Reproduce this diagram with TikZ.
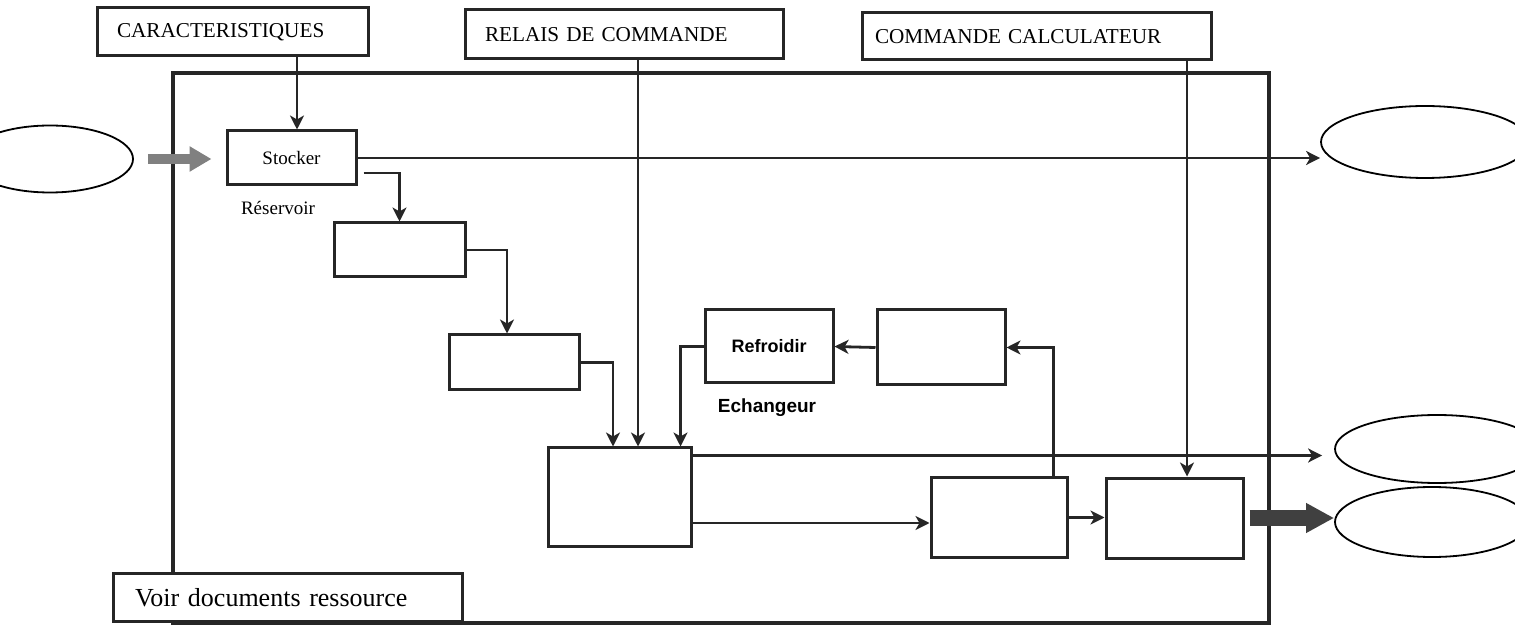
\documentclass[tikz,border=0pt]{standalone}
\usepackage{fontspec}
\setmainfont{Liberation Serif}
\newfontfamily\arialfont{Liberation Sans}
\usetikzlibrary{arrows.meta,shapes.geometric}

\begin{document}
\begin{tikzpicture}[x=0.5pt,y=0.5pt,yscale=-1,xscale=1,
  trait/.style={draw=black!85,line width=1.4pt},
  fleche/.style={trait,-{Stealth[length=7pt,width=7pt,inset=2pt]}},
  grosse/.style={draw=black!50,line width=5pt,-{Triangle[length=11pt,width=12pt]}},
  tresgrosse/.style={draw=black!75,line width=8pt,-{Triangle[length=14pt,width=14pt]}},
  boite/.style={draw=black!85,line width=1.5pt,fill=white,inner sep=0pt},
  titre/.style={boite,font=\fontsize{10.6}{12}\selectfont,align=left},
  sortie/.style={ellipse,draw=black,line width=0.9pt,inner sep=0pt}]
\useasboundingbox (0,0) rectangle (1515,630);

%Shape: Rectangle (cadre)
\draw[trait,line width=1.6pt] (173,73) rectangle (1269,623);

% Text Node
\node[titre,text width=115.5pt,inner xsep=10pt,minimum height=24pt] (carac) at (232.5,32) {CARACTERISTIQUES};
% Text Node
\node[titre,text width=139pt,inner xsep=10pt,minimum height=24.5pt] (relais) at (624,34.5) {RELAIS DE COMMANDE};
% Text Node
\node[titre,text width=161.5pt,inner xsep=6.5pt,minimum height=23.5pt] (calc) at (1036.5,36.5) {COMMANDE CALCULATEUR};
% Text Node
\node[titre,font=\fontsize{13}{15}\selectfont,text width=152.5pt,inner xsep=11pt,minimum height=24pt] (voir) at (287.5,597.5) {Voir documents ressource};

%Shape: Ellipse
\node[sortie,minimum width=83pt,minimum height=33.5pt] (entree) at (50,159) {};
\node[sortie,minimum width=104pt,minimum height=36pt] (sortieA) at (1425,142) {};
\node[sortie,minimum width=102pt,minimum height=34pt] (sortieB) at (1437,449) {};
\node[sortie,minimum width=97pt,minimum height=35pt] (sortieC) at (1432,522) {};

%Shape: Rectangle
\node[boite,minimum width=64.5pt,minimum height=27pt,font=\fontsize{9.5}{11}\selectfont] (stocker) at (291.5,158) {Stocker};
\node[boite,minimum width=65.5pt,minimum height=27pt] (blocA) at (399.5,250) {};
\node[boite,minimum width=65pt,minimum height=27.5pt] (blocB) at (514,362.5) {};
\node[boite,minimum width=71.5pt,minimum height=49pt] (melange) at (619.5,497) {};
\node[boite,minimum width=64pt,minimum height=36.5pt,font=\arialfont\bfseries\fontsize{9}{11}\selectfont] (refroidir) at (769,346.5) {Refroidir};
\node[boite,minimum width=64pt,minimum height=37.5pt] (blocE) at (941,347.5) {};
\node[boite,minimum width=68pt,minimum height=40pt] (basA) at (999,517.5) {};
\node[boite,minimum width=68.5pt,minimum height=40pt] (basB) at (1174.5,518) {};

% Text Node
\node[font=\fontsize{9.5}{11}\selectfont] (reservoir) at (278,208) {Réservoir};
% Text Node
\node[font=\arialfont\bfseries\fontsize{9.5}{11}\selectfont] (echangeur) at (767,408) {Echangeur};

\coordinate (xcar) at (297,0);
\coordinate (xrel) at (638,0);
\coordinate (xcalc) at (1187,0);

%Straight Lines
\draw[fleche] (carac.south -| xcar) -- (stocker.north -| xcar);
\draw[fleche] (relais.south -| xrel) -- (melange.north -| xrel);
\draw[fleche] (calc.south -| xcalc) -- (basB.north -| xcalc);
\draw[grosse,shorten <=7pt,shorten >=7pt] (entree.east) -- (entree.east -| stocker.west);
\draw[fleche] (stocker.east) -- (stocker.east -| sortieA.west);
\draw[fleche] ([xshift=3pt,yshift=7.5pt]stocker.east) -| (blocA.north);
\draw[fleche] (blocA.east) -| ([xshift=-3.5pt]blocB.north);
\draw[fleche] (blocB.east) -| ([xshift=-3.25pt]melange.north);
\draw[fleche] (refroidir.west) -| ([xshift=-6pt]melange.north east);
\draw[fleche] (blocE.west) -- (refroidir.east);
\draw[fleche] ([xshift=-7.5pt]basA.north east) |- (blocE.east);
\draw[fleche,shorten >=6pt] ([yshift=4.5pt]melange.north east) -- ([yshift=4.5pt]melange.north east -| sortieB.west);
\draw[fleche] ([yshift=13pt]melange.east) -- ([yshift=13pt]melange.east -| basA.west);
\draw[fleche] (basA.east) -- (basA.east -| basB.west);
\draw[tresgrosse,shorten <=2.5pt] (basB.east) -- (basB.east -| sortieC.west);

\end{tikzpicture}
\end{document}
